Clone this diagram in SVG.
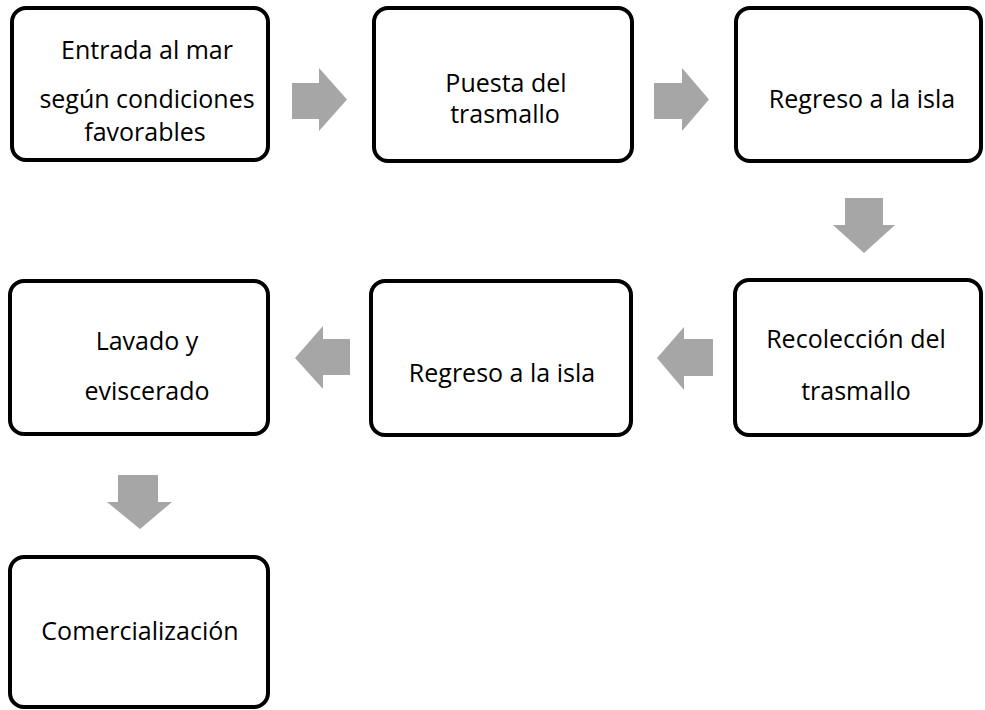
<svg xmlns="http://www.w3.org/2000/svg" width="985" height="710" viewBox="0 0 985 710">
<style>
.box{fill:#ffffff;stroke:#000000;stroke-width:4}
.arr{fill:#a6a6a6;stroke:none}
.t{font-family:"Open Sans","Liberation Sans",sans-serif;font-size:25px;fill:#000000;text-anchor:middle}
</style>
<rect width="985" height="710" fill="#ffffff"/>
<g id="connectors">
<polygon class="arr" points="292,83 319,83 319,68 347,99.5 319,131 319,119 292,119"/>
<polygon class="arr" points="654,83 682,83 682,68 709,99.5 682,131 682,119 654,119"/>
<polygon class="arr" points="845,198 883,198 883,225 895,225 864,253 833,225 845,225"/>
<polygon class="arr" points="713,339 684,339 684,327 657,358 684,390 684,376 713,376"/>
<polygon class="arr" points="350,339 323,339 323,326 295,358 323,389 323,375 350,375"/>
<polygon class="arr" points="118,475 158,475 158,502 172,502 140,529 107,502 118,502"/>
</g>
<g id="n1">
<rect class="box" x="12" y="8" width="256" height="152" rx="14"/>
<text class="t" x="147" y="59">Entrada al mar</text>
<text class="t" x="147" y="108">según condiciones</text>
<text class="t" x="145" y="141">favorables</text>
</g>
<g id="n2">
<rect class="box" x="374" y="8" width="258" height="153" rx="14"/>
<text class="t" x="506" y="92">Puesta del</text>
<text class="t" x="505" y="123">trasmallo</text>
</g>
<g id="n3">
<rect class="box" x="736" y="8" width="245" height="153" rx="14"/>
<text class="t" x="862" y="108">Regreso a la isla</text>
</g>
<g id="n4">
<rect class="box" x="735" y="280" width="246" height="155" rx="14"/>
<text class="t" x="856" y="348">Recolección del</text>
<text class="t" x="856" y="400">trasmallo</text>
</g>
<g id="n5">
<rect class="box" x="371" y="281" width="260" height="154" rx="14"/>
<text class="t" x="502" y="382">Regreso a la isla</text>
</g>
<g id="n6">
<rect class="box" x="10" y="281" width="258" height="153" rx="14"/>
<text class="t" x="147" y="350">Lavado y</text>
<text class="t" x="147" y="400">eviscerado</text>
</g>
<g id="n7">
<rect class="box" x="10" y="557" width="258" height="150" rx="14"/>
<text class="t" x="140" y="640">Comercialización</text>
</g>
</svg>
